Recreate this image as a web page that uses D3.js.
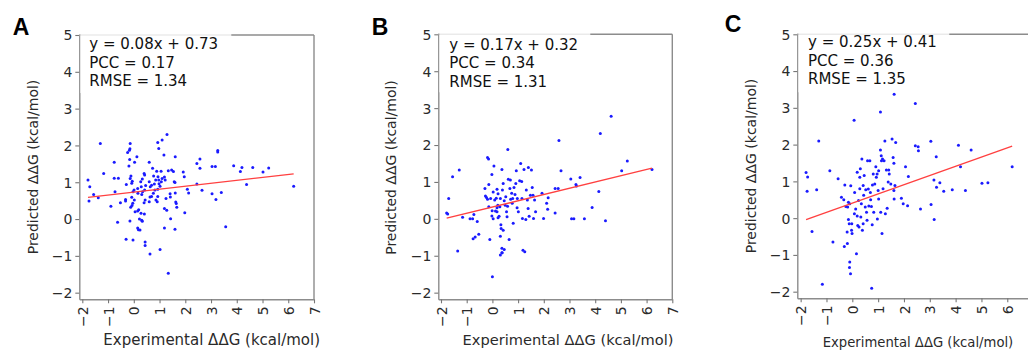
<!DOCTYPE html>
<html><head><meta charset="utf-8">
<script src="https://cdn.jsdelivr.net/npm/d3@7"></script>
<style>body{margin:0;background:#fff} svg{display:block}</style>
</head><body>
<svg id="chart" width="1028" height="354"></svg>
<script>
// ---------- data ----------
const panelLetters = ["A", "B", "C"];
const slopes = [0.08, 0.17, 0.25];
const intercepts = [0.73, 0.32, 0.41];
const pccValues = ["0.17", "0.34", "0.36"];
const rmseValues = ["1.34", "1.31", "1.35"];
const xTicks = [-2, -1, 0, 1, 2, 3, 4, 5, 6, 7];
const yTicks = [-2, -1, 0, 1, 2, 3, 4, 5];
const xLabel = "Experimental \u0394\u0394G (kcal/mol)";
const yLabel = "Predicted \u0394\u0394G (kcal/mol)";

// [experimental, predicted]
const pointsA = [[-1.78,1.06],[-1.71,0.88],[-1.74,0.49],[-1.56,0.67],[-1.38,0.58],[-1.30,2.05],[-1.17,1.24],[-0.89,0.35],[-0.76,1.54],[-0.76,1.11],[-0.60,1.11],[-0.73,0.74],[-0.63,-0.09],[-0.52,0.44],[-0.32,0.53],[-0.32,0.49],[-0.29,0.94],[-0.30,-0.55],[-0.24,1.81],[-0.17,1.87],[-0.14,2.05],[-0.15,1.91],[-0.16,1.62],[-0.19,1.44],[-0.11,1.17],[-0.14,1.10],[-0.06,1.03],[-0.08,0.97],[-0.03,0.74],[-0.08,0.59],[-0.12,0.32],[-0.15,-0.05],[-0.03,-0.57],[0.01,0.79],[0.02,0.52],[-0.04,0.43],[-0.07,0.37],[0.05,0.20],[0.03,1.54],[0.12,1.69],[0.15,0.83],[0.16,0.70],[0.15,0.22],[0.19,0.25],[0.22,0.0],[0.15,-0.24],[0.18,-0.29],[0.24,-0.30],[0.31,-0.03],[0.33,-0.06],[0.41,0.14],[0.28,0.16],[0.27,1.01],[0.33,1.09],[0.42,1.20],[0.40,1.24],[0.29,0.88],[0.34,0.74],[0.31,0.67],[0.42,0.79],[0.46,0.91],[0.40,0.44],[0.44,0.52],[0.60,1.54],[0.73,1.38],[0.60,1.01],[0.64,0.88],[0.69,0.92],[0.63,0.60],[0.69,0.61],[0.60,0.47],[0.44,-0.62],[0.44,-0.72],[0.63,-0.95],[0.77,1.17],[0.80,0.95],[0.82,0.79],[0.85,1.06],[0.86,0.52],[0.76,0.70],[0.89,1.30],[0.94,1.15],[0.93,0.81],[0.93,0.61],[0.91,0.47],[0.98,0.96],[0.97,1.06],[1.02,0.89],[1.06,1.30],[1.07,1.01],[1.10,1.10],[1.02,-0.83],[0.93,2.08],[0.97,1.92],[1.10,2.15],[1.29,2.30],[1.17,1.74],[1.19,1.14],[1.22,1.06],[1.19,0.29],[1.19,-0.24],[1.28,0.24],[1.25,0.56],[1.34,1.31],[1.41,0.69],[1.42,0.60],[1.43,0.01],[1.34,-1.47],[1.47,1.33],[1.54,1.29],[1.57,1.01],[1.60,0.99],[1.61,0.71],[1.63,0.46],[1.65,0.42],[1.67,0.32],[1.60,-0.28],[1.61,1.69],[1.92,1.28],[1.96,1.15],[1.98,0.17],[2.08,0.81],[2.13,0.71],[2.45,1.51],[2.57,1.63],[2.57,1.38],[2.45,0.95],[2.65,0.78],[3.04,1.43],[3.17,1.43],[3.04,0.69],[3.19,0.53],[3.40,0.72],[3.26,1.86],[3.26,1.82],[3.57,-0.21],[3.88,1.45],[4.14,1.29],[4.20,1.40],[4.38,0.94],[4.62,1.40],[5.02,1.28],[5.24,1.39],[6.21,0.89]];

const pointsB = [[-1.78,0.16],[-1.74,0.13],[-1.70,0.55],[-1.55,1.14],[-1.29,1.32],[-1.35,-0.87],[-1.16,0.04],[-0.87,0.00],[-0.77,0.00],[-0.72,0.12],[-0.75,-0.54],[-0.67,-0.49],[-0.59,-0.07],[-0.53,-0.42],[-0.29,0.82],[-0.27,0.62],[-0.23,0.58],[-0.19,1.66],[-0.15,1.62],[-0.14,0.93],[-0.19,0.53],[-0.14,0.33],[-0.10,-0.56],[-0.07,0.55],[-0.02,1.20],[-0.02,0.08],[0.00,-1.57],[-0.01,0.22],[0.03,0.00],[0.03,0.73],[0.06,1.43],[0.09,0.51],[0.12,0.21],[0.15,0.56],[0.18,0.80],[0.18,0.30],[0.21,0.37],[0.22,0.68],[0.22,0.03],[0.26,0.07],[0.18,0.19],[0.29,0.33],[0.31,0.55],[0.31,-0.98],[0.37,-0.92],[0.37,-0.80],[0.38,-0.92],[0.34,-0.26],[0.33,-0.16],[0.42,-0.31],[0.31,-0.47],[0.46,-0.83],[0.37,1.34],[0.39,0.78],[0.42,0.96],[0.46,0.49],[0.50,0.37],[0.52,0.60],[0.55,0.19],[0.57,0.06],[0.59,0.34],[0.60,1.88],[0.65,-0.56],[0.62,1.07],[0.68,0.82],[0.70,1.05],[0.71,0.53],[0.75,0.69],[0.77,0.42],[0.79,0.55],[0.81,-0.12],[0.84,0.85],[0.88,0.66],[0.91,0.96],[0.93,1.30],[0.96,0.30],[0.97,0.55],[1.01,0.19],[1.06,1.03],[1.10,1.50],[1.14,1.01],[1.15,0.55],[1.17,0.01],[1.19,-0.85],[1.23,1.34],[1.26,-0.89],[1.30,-0.02],[1.32,0.78],[1.36,0.51],[1.39,0.28],[1.40,1.39],[1.43,0.07],[1.48,0.64],[1.52,1.32],[1.55,0.85],[1.58,0.64],[1.60,0.01],[1.64,0.51],[1.68,0.19],[1.93,0.69],[1.99,0.01],[2.11,0.42],[2.15,0.26],[2.17,0.57],[2.44,0.82],[2.56,0.82],[2.44,0.16],[2.59,2.12],[2.67,1.30],[3.05,1.08],[3.08,0.00],[3.17,0.00],[3.25,0.93],[3.27,0.89],[3.41,1.12],[3.58,0.00],[3.88,0.31],[4.14,0.74],[4.20,2.31],[4.40,-0.05],[4.62,2.78],[5.03,1.30],[5.25,1.57],[6.21,1.34]];

const pointsC = [[-1.79,1.24],[-1.73,1.12],[-1.75,0.73],[-1.56,-0.36],[-1.38,0.77],[-1.30,2.10],[-1.16,-1.80],[-0.87,1.29],[-0.75,-0.65],[-0.55,1.07],[-0.42,0.57],[-0.33,0.50],[-0.29,0.90],[-0.31,-0.77],[-0.19,-0.69],[-0.25,0.32],[-0.20,-0.38],[-0.18,0.30],[-0.15,0.43],[-0.15,-0.04],[-0.12,-0.15],[-0.10,0.39],[-0.10,-1.19],[-0.11,-1.34],[-0.07,-1.51],[-0.06,0.88],[-0.03,-0.33],[-0.02,-0.15],[-0.01,-0.42],[0.07,2.66],[0.08,0.12],[0.09,0.70],[0.13,0.25],[0.19,0.06],[0.19,1.25],[0.16,-0.97],[0.21,-0.20],[0.24,0.48],[0.26,-0.24],[0.29,1.11],[0.29,0.80],[0.31,1.34],[0.33,0.03],[0.35,0.39],[0.37,1.61],[0.39,-0.33],[0.42,0.89],[0.42,-0.15],[0.44,0.62],[0.46,1.16],[0.50,0.30],[0.52,0.77],[0.55,0.16],[0.57,-0.06],[0.59,1.56],[0.62,0.79],[0.64,0.33],[0.68,1.56],[0.70,0.70],[0.71,0.50],[0.74,0.32],[0.75,-1.91],[0.77,-0.18],[0.78,0.90],[0.81,1.20],[0.83,0.16],[0.87,0.93],[0.91,1.40],[0.93,1.11],[0.96,1.20],[0.97,-0.02],[1.00,0.75],[1.02,0.52],[1.02,1.29],[1.09,2.89],[1.09,1.85],[1.12,1.70],[1.10,0.16],[1.13,1.56],[1.15,-0.42],[1.17,1.61],[1.19,0.80],[1.23,1.56],[1.26,2.10],[1.28,0.12],[1.32,1.31],[1.35,0.27],[1.39,0.98],[1.41,1.31],[1.43,1.20],[1.49,0.93],[1.54,2.15],[1.58,1.65],[1.61,1.49],[1.61,0.75],[1.62,0.52],[1.65,0.89],[1.68,2.06],[1.62,3.37],[1.90,0.54],[1.97,0.39],[2.06,1.40],[2.14,0.34],[2.17,1.13],[2.44,3.12],[2.44,1.97],[2.55,1.94],[2.56,1.83],[2.64,0.25],[3.04,2.09],[3.05,0.37],[3.16,1.04],[3.17,-0.04],[3.25,1.67],[3.26,0.84],[3.39,0.96],[3.54,0.73],[3.87,0.77],[4.11,1.98],[4.19,1.40],[4.38,0.75],[4.60,1.85],[5.02,0.95],[5.25,0.96],[6.19,1.40]];

const panelPoints = [pointsA, pointsB, pointsC];

// ---------- layout (positions only) ----------
const layout = [
  {xr:[79.3, 314.0], xd:[-2.117, 7], yr:[299.3, 35.0], yd:[-2.18, 5], letter:[12.7, 35], ylabX:33, ylabY:167, xlabX:211.7, xlabY:345, xlabSize:15, textX:89.3, textY:49},
  {xr:[438.3, 672.3], xd:[-2.105, 7], yr:[299.3, 34.3], yd:[-2.18, 5], letter:[371.7, 35], ylabX:391.5, ylabY:167.5, xlabX:568, xlabY:345, xlabSize:14.6, textX:449.3, textY:49.5},
  {xr:[797.3, 1033.1], xd:[-2.13, 7], yr:[298.3, 34.3], yd:[-2.18, 5], letter:[724.7, 31.7], ylabX:751.5, ylabY:166, xlabX:918, xlabY:347, xlabSize:13.2, textX:808, textY:47.3}
];

const svg = d3.select("#chart");
const FONT = "'DejaVu Sans', sans-serif";
const spineColor = "#8c8c8c";

layout.forEach((L, i) => {
  const x = d3.scaleLinear().domain(L.xd).range(L.xr);
  const y = d3.scaleLinear().domain(L.yd).range(L.yr);
  const g = svg.append("g");
  const fmt = d3.format("d");

  // axes
  const gx = g.append("g").attr("transform", `translate(0,${L.yr[0]})`)
    .call(d3.axisBottom(x).tickValues(xTicks).tickFormat(fmt).tickSize(4).tickSizeOuter(0));
  const gy = g.append("g").attr("transform", `translate(${L.xr[0]},0)`)
    .call(d3.axisLeft(y).tickValues(yTicks).tickFormat(fmt).tickSize(4).tickSizeOuter(0));
  [gx, gy].forEach(a => {
    a.select(".domain").attr("stroke", spineColor).attr("stroke-width", 1.4);
    a.selectAll(".tick line").attr("stroke", "#777").attr("stroke-width", 1.1);
    a.selectAll(".tick text").attr("fill", "#2a2a2a").style("font-family", FONT).style("font-size", "14px");
  });
  gy.selectAll(".tick text").attr("x", -7).attr("dy", "0.35em");
  gx.selectAll(".tick text")
    .attr("transform", "rotate(-90)")
    .attr("text-anchor", "end")
    .attr("x", -7).attr("y", 0).attr("dy", "0.36em");

  // top and right spines
  g.append("line").attr("x1", L.xr[0]).attr("x2", L.xr[1]).attr("y1", L.yr[1]).attr("y2", L.yr[1])
    .attr("stroke", spineColor).attr("stroke-width", 1.4);
  g.append("line").attr("x1", L.xr[1]).attr("x2", L.xr[1]).attr("y1", L.yr[1]).attr("y2", L.yr[0])
    .attr("stroke", spineColor).attr("stroke-width", 1.4);

  // points
  const pts = panelPoints[i];
  g.append("g").selectAll("circle").data(pts).join("circle")
    .attr("cx", d => x(d[0])).attr("cy", d => y(d[1])).attr("r", 1.5)
    .attr("fill", "#1a1aff");

  // regression line across data range
  const [xmin, xmax] = d3.extent(pts, d => d[0]);
  const fit = [[xmin, slopes[i] * xmin + intercepts[i]], [xmax, slopes[i] * xmax + intercepts[i]]];
  g.append("path").datum(fit)
    .attr("d", d3.line().x(d => x(d[0])).y(d => y(d[1])))
    .attr("stroke", "#ff4040").attr("stroke-width", 1.3).attr("fill", "none");

  // legend-like box
  g.append("rect").attr("x", L.xr[0] + 1).attr("y", L.yr[1] - 6).attr("width", 151).attr("height", 64)
    .attr("fill", "#fff").attr("opacity", 0.82);
  const lines = [`y = ${slopes[i].toFixed(2)}x + ${intercepts[i].toFixed(2)}`, `PCC = ${pccValues[i]}`, `RMSE = ${rmseValues[i]}`];
  g.append("g").selectAll("text").data(lines).join("text")
    .attr("x", L.textX).attr("y", (d, k) => L.textY + k * 18.5)
    .attr("fill", "#111").style("font-family", FONT).style("font-size", "15px")
    .text(d => d);

  // axis labels
  g.append("text").attr("transform", `translate(${L.ylabX},${L.ylabY}) rotate(-90)`)
    .attr("text-anchor", "middle").attr("dy", "0.35em")
    .attr("fill", "#2a2a2a").style("font-family", FONT).style("font-size", "14px")
    .text(yLabel);
  g.append("text").attr("x", L.xlabX).attr("y", L.xlabY)
    .attr("text-anchor", "middle")
    .attr("fill", "#2a2a2a").style("font-family", FONT).style("font-size", L.xlabSize + "px")
    .text(xLabel);

  // panel letter
  g.append("text").attr("x", L.letter[0]).attr("y", L.letter[1])
    .attr("fill", "#000").style("font-family", "'Liberation Sans', Arial, sans-serif")
    .style("font-weight", "bold").style("font-size", "23px")
    .text(panelLetters[i]);
});
</script>
</body></html>
